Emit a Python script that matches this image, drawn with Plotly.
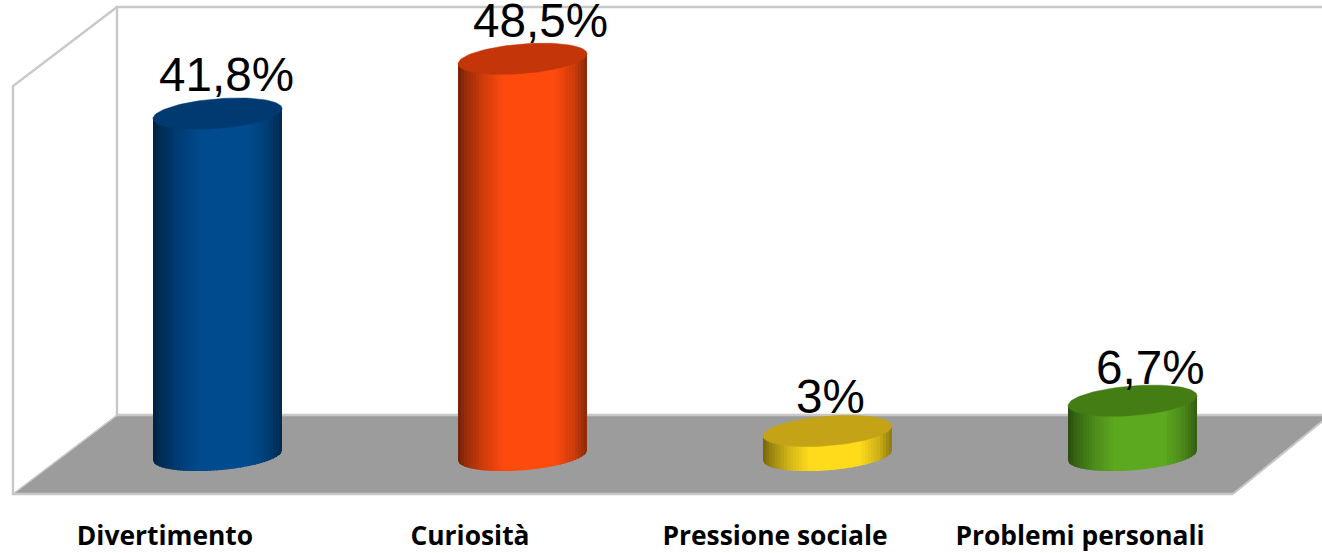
import math
import plotly.graph_objects as go

categories = ["Divertimento", "Curiosità", "Pressione sociale", "Problemi personali"]
values = [41.8, 48.5, 3.0, 6.7]
value_labels = ["41,8%", "48,5%", "3%", "6,7%"]

side_colors = ["#004A8E", "#FF4A0E", "#FFDB1C", "#5CA81F"]
top_colors = ["#003A70", "#C4350A", "#C4A316", "#437D14"]

# layout geometry (pixels of the 1322x553 picture)
W, H = 1322, 553
PLOT_BOTTOM = 510
X0_PX, DX_PX = 217.5, 305.0
BASE_PX, PX_PER_VALUE = 455.5, 8.18
RADIUS_PX, TILT_PX, MINOR_PX = 64.5, 5.0, 14.8
STRIPS = 43
label_shift_x = [8.5, 18, 3, 17.5]
label_shift_y = [13, 12, 8, 7]
SHADE = [(0, .45), (.06, .6), (.2, .82), (.36, 1.0), (.75, 1.0), (.9, .8), (.97, .62), (1, .55)]


def px_x(p):
    return (p - X0_PX) / DX_PX


def px_y(p):
    return (BASE_PX - p) / PX_PER_VALUE


def shade(hex_color, t):
    for (a, fa), (b, fb) in zip(SHADE, SHADE[1:]):
        if t <= b:
            f = fa + (fb - fa) * (t - a) / (b - a)
            break
    r, g, bl = (int(hex_color[i:i + 2], 16) for i in (1, 3, 5))
    return f"rgb({r * f:.0f},{g * f:.0f},{bl * f:.0f})"


rx = RADIUS_PX / DX_PX
tilt = TILT_PX / PX_PER_VALUE
minor = MINOR_PX / PX_PER_VALUE

fig = go.Figure()

# the real bars; the cylinder shading below is drawn on top of them
fig.add_trace(go.Bar(x=list(range(len(values))), y=values, width=0.36,
                     marker=dict(color=side_colors, line=dict(width=0)),
                     showlegend=False, hoverinfo="x+y"))

for i, (v, side, top) in enumerate(zip(values, side_colors, top_colors)):
    for s in range(STRIPS):
        u0 = -1 + 2 * s / STRIPS
        # each strip runs one pixel under the next one, so no seam shows
        u1 = min(1.0, -1 + 2 * (s + 1) / STRIPS + 1 / RADIUS_PX)
        us = [u0 + (u1 - u0) * k / 3 for k in range(4)]
        low = [-minor * math.sqrt(max(0, 1 - u * u)) + tilt * u for u in us]
        xs = [i + rx * u for u in us]
        up = [v + tilt * u for u in reversed(us)]
        fig.add_trace(go.Scatter(
            x=xs + xs[::-1] + [xs[0]], y=low + up + [low[0]],
            mode="lines", fill="toself", fillcolor=shade(side, (s + .5) / STRIPS),
            line=dict(width=0),
            showlegend=False, hoverinfo="skip"))
    ts = [2 * math.pi * k / 90 for k in range(91)]
    fig.add_trace(go.Scatter(
        x=[i + rx * math.cos(t) for t in ts],
        y=[v + tilt * math.cos(t) + minor * math.sin(t) for t in ts],
        mode="lines", fill="toself", fillcolor=top, line=dict(color=top, width=0.5),
        showlegend=False, hoverinfo="skip"))

WALL = "#C8C8C8"
FLOOR = "#9C9C9C"


def path(points, close=False):
    d = "M " + " L ".join(f"{px_x(a):.5f},{px_y(b):.5f}" for a, b in points)
    return d + (" Z" if close else "")


shapes = [
    dict(type="path", path=path([(118, 415), (1330, 415), (1233, 494), (13, 494)], True),
         fillcolor=FLOOR, line=dict(width=0), layer="below"),
    dict(type="path", path=path([(1233, 494), (1330, 415)]),
         line=dict(color=WALL, width=2), layer="below"),
    dict(type="path", path=path([(1322, 7), (117, 7), (117, 415), (1330, 415)]),
         line=dict(color=WALL, width=2.4), layer="below"),
    dict(type="path", path=path([(117, 7), (13, 86), (13, 494), (1233, 494)]),
         line=dict(color=WALL, width=2.4), layer="below"),
    dict(type="path", path=path([(13, 494), (117, 415)]),
         line=dict(color=WALL, width=1.5), layer="below"),
]

annotations = [
    dict(x=i, y=v, xref="x", yref="y", text=t, showarrow=False,
         xshift=label_shift_x[i], yshift=label_shift_y[i], yanchor="bottom", xanchor="center",
         font=dict(family="Liberation Sans", size=47.6, color="#000000"),
         borderpad=0, borderwidth=0)
    for i, (v, t) in enumerate(zip(values, value_labels))
]

fig.update_layout(
    width=W, height=H, margin=dict(l=0, r=0, t=0, b=H - PLOT_BOTTOM, autoexpand=False),
    paper_bgcolor="#FFFFFF", plot_bgcolor="#FFFFFF", showlegend=False,
    shapes=shapes, annotations=annotations, bargap=0,
    xaxis=dict(range=[px_x(0), px_x(W)], tickmode="array",
               tickvals=[i - 52.5 / DX_PX for i in range(len(categories))],
               ticktext=[f"<b>{c}</b>" for c in categories],
               tickfont=dict(family="Open Sans", size=26.4, color="#000000"),
               ticks="outside", ticklen=2, tickcolor="rgba(0,0,0,0)",
               showgrid=False, zeroline=False, showline=False, tickangle=0,
               automargin=False),
    yaxis=dict(range=[px_y(PLOT_BOTTOM), px_y(0)], visible=False, showgrid=False, zeroline=False),
)

fig.write_html("out.html", post_script="document.body.style.margin='0';",
               config=dict(displayModeBar=False))
